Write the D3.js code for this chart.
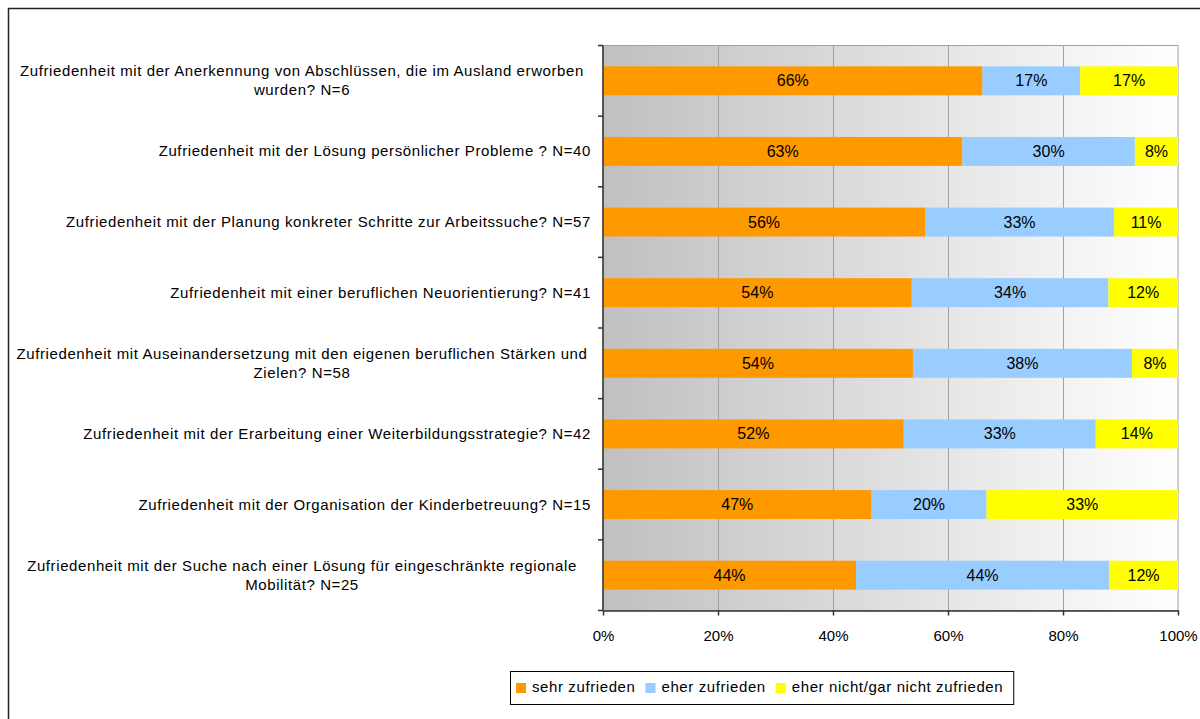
<!DOCTYPE html>
<html>
<head>
<meta charset="utf-8">
<script src="https://cdn.jsdelivr.net/npm/d3@7"></script>
<style>
  body { margin: 0; background: #fff; }
  svg text { font-family: "Liberation Sans", Arial, sans-serif; fill: #000; }
</style>
</head>
<body>
<div id="chart"></div>
<script>
// Categories (line breaks as in the original chart)
const categories = [
  "Zufriedenheit mit der Anerkennung von Abschlüssen, die im Ausland erworben\nwurden? N=6",
  "Zufriedenheit mit der Lösung persönlicher Probleme ? N=40",
  "Zufriedenheit mit der Planung konkreter Schritte zur Arbeitssuche? N=57",
  "Zufriedenheit mit einer beruflichen Neuorientierung? N=41",
  "Zufriedenheit mit Auseinandersetzung mit den eigenen beruflichen Stärken und\nZielen? N=58",
  "Zufriedenheit mit der Erarbeitung einer Weiterbildungsstrategie? N=42",
  "Zufriedenheit mit der Organisation der Kinderbetreuung? N=15",
  "Zufriedenheit mit der Suche nach einer Lösung für eingeschränkte regionale\nMobilität? N=25"
];

// Series values (percent)
const sehrZufrieden = [66, 62.5, 56, 53.7, 53.9, 52.3, 46.7, 44];
const eherZufrieden = [17, 30, 32.9, 34.2, 38.1, 33.4, 20, 44];
const eherNicht = [17, 7.5, 11.1, 12.1, 8, 14.3, 33.3, 12];

const seriesNames = ["sehr zufrieden", "eher zufrieden", "eher nicht/gar nicht zufrieden"];
const seriesColors = ["#FF9900", "#99CCFF", "#FFFF00"];
const xTicks = [0, 20, 40, 60, 80, 100];

class StackedBarChart {
  constructor(selector, config) {
    this.selector = selector;
    this.config = config;
    this.initChart();
  }

  initChart() {
    const { width, height, plot } = this.config;

    this.svg = d3
      .select(this.selector)
      .append("svg")
      .attr("width", width)
      .attr("height", height);

    // outer chart border (only left/top visible in the crop)
    this.svg
      .append("rect")
      .attr("x", 8.5)
      .attr("y", 8.5)
      .attr("width", width + 10)
      .attr("height", height + 10)
      .attr("fill", "#fff")
      .attr("stroke", "#222")
      .attr("stroke-width", 1.5);

    // Scales
    this.x = d3.scaleLinear().domain([0, 100]).range([plot.left, plot.right]);
    this.y = d3
      .scaleBand()
      .domain(categories)
      .range([plot.top, plot.bottom])
      .paddingInner(0.59)
      .paddingOuter(0.295);

    // background gradient
    const grad = this.svg
      .append("defs")
      .append("linearGradient")
      .attr("id", "bg")
      .attr("x1", "0%")
      .attr("x2", "100%")
      .attr("y1", "0%")
      .attr("y2", "0%");
    grad.append("stop").attr("offset", "0%").attr("stop-color", "#c0c0c0");
    grad.append("stop").attr("offset", "100%").attr("stop-color", "#ffffff");

    this.svg
      .append("rect")
      .attr("x", plot.left)
      .attr("y", plot.top)
      .attr("width", plot.right - plot.left)
      .attr("height", plot.bottom - plot.top)
      .attr("fill", "url(#bg)")
      .attr("stroke", "#a0a0a0")
      .attr("stroke-width", 1);

    // vertical gridlines
    this.svg
      .append("g")
      .selectAll("line")
      .data(xTicks.slice(1, -1))
      .join("line")
      .attr("x1", (d) => Math.round(this.x(d)) + 0.5)
      .attr("x2", (d) => Math.round(this.x(d)) + 0.5)
      .attr("y1", plot.top)
      .attr("y2", plot.bottom)
      .attr("stroke", "#a0a0a0")
      .attr("stroke-width", 1);
  }

  render() {
    const { plot } = this.config;
    const series = [sehrZufrieden, eherZufrieden, eherNicht];

    const rows = categories.map((c, i) => {
      let acc = 0;
      return series.map((s, k) => {
        const seg = { cat: c, k, x0: acc, x1: acc + s[i], v: s[i] };
        acc += s[i];
        return seg;
      });
    });
    const segs = rows.flat();

    // bars
    this.svg
      .append("g")
      .selectAll("rect")
      .data(segs)
      .join("rect")
      .attr("x", (d) => this.x(d.x0))
      .attr("y", (d) => this.y(d.cat))
      .attr("width", (d) => this.x(d.x1) - this.x(d.x0))
      .attr("height", this.y.bandwidth())
      .attr("fill", (d) => seriesColors[d.k]);

    // bar labels
    this.svg
      .append("g")
      .selectAll("text")
      .data(segs)
      .join("text")
      .attr("x", (d) => (this.x(d.x0) + this.x(d.x1)) / 2)
      .attr("y", (d) => this.y(d.cat) + this.y.bandwidth() / 2 + 5.5)
      .attr("text-anchor", "middle")
      .style("font-size", "16px")
      .text((d) => Math.round(d.v) + "%");

    // x axis
    const xAxis = this.svg
      .append("g")
      .attr("transform", `translate(0,${plot.bottom})`)
      .call(
        d3
          .axisBottom(this.x)
          .tickValues(xTicks)
          .tickSize(5)
          .tickSizeOuter(0)
          .tickFormat((d) => d + "%")
      );
    xAxis.select(".domain").attr("stroke", "#333").attr("stroke-width", 1.5);
    xAxis.selectAll(".tick line").attr("stroke", "#333").attr("stroke-width", 1.5);
    xAxis
      .selectAll(".tick text")
      .attr("y", 20)
      .style("font-size", "15px")
      .style("font-family", "Liberation Sans, Arial, sans-serif");

    // y axis line and boundary ticks
    const yAxis = this.svg.append("g");
    yAxis
      .append("line")
      .attr("x1", plot.left)
      .attr("x2", plot.left)
      .attr("y1", plot.top)
      .attr("y2", plot.bottom)
      .attr("stroke", "#333")
      .attr("stroke-width", 1.5);
    const step = this.y.step();
    yAxis
      .selectAll("line.tick")
      .data(d3.range(categories.length + 1))
      .join("line")
      .attr("class", "tick")
      .attr("x1", plot.left - 5)
      .attr("x2", plot.left)
      .attr("y1", (i) => plot.top + i * step)
      .attr("y2", (i) => plot.top + i * step)
      .attr("stroke", "#333")
      .attr("stroke-width", 1.5);

    // category labels
    const lineH = 19;
    const labels = this.svg
      .append("g")
      .selectAll("text")
      .data(categories)
      .join("text")
      .style("font-size", "15px")
      .style("letter-spacing", "0.6px")
      .attr("text-anchor", (d) => (d.includes("\n") ? "middle" : "end"));
    labels.each(function (d) {
      const lines = d.split("\n");
      const multi = lines.length > 1;
      const cy = chart.y(d) + chart.y.bandwidth() / 2;
      d3.select(this)
        .selectAll("tspan")
        .data(lines)
        .join("tspan")
        .attr("x", multi ? plot.labelCenter : plot.labelRight)
        .attr("y", (l, i) => cy + 5 + (i - (lines.length - 1) / 2) * lineH)
        .text((l) => l);
    });

    this.renderLegend();
  }

  renderLegend() {
    const { legend } = this.config;
    const g = this.svg.append("g");
    const box = g
      .append("rect")
      .attr("fill", "#fff")
      .attr("stroke", "#000")
      .attr("stroke-width", 1);

    let cx = legend.left + 6;
    const items = g
      .selectAll("g.item")
      .data(seriesNames)
      .join("g")
      .attr("class", "item");
    items.each(function (name, i) {
      const it = d3.select(this);
      it.append("rect")
        .attr("x", cx)
        .attr("y", legend.top + 12)
        .attr("width", 10)
        .attr("height", 10)
        .attr("fill", seriesColors[i]);
      const t = it
        .append("text")
        .attr("x", cx + 16)
        .attr("y", legend.top + 21)
        .style("font-size", "15px")
        .style("letter-spacing", "0.6px")
        .text(name);
      cx += 16 + t.node().getComputedTextLength() + 10;
    });
    box
      .attr("x", legend.left + 0.5)
      .attr("y", legend.top + 0.5)
      .attr("width", cx - legend.left)
      .attr("height", legend.height);
  }
}

const chart = new StackedBarChart("#chart", {
  width: 1200,
  height: 719,
  plot: { left: 603, right: 1178, top: 45.5, bottom: 610.5, labelRight: 591, labelCenter: 302 },
  legend: { left: 510, top: 671, height: 33 }
});
chart.render();
</script>
</body>
</html>
